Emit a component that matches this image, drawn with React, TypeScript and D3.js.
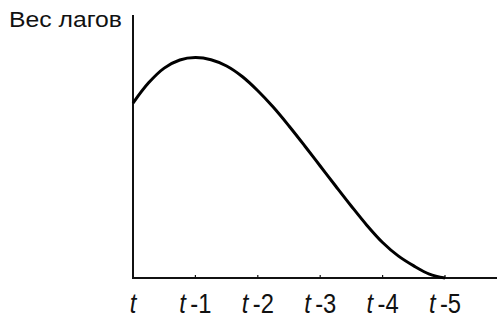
import React from "react";
import * as d3 from "d3";

// Lag positions (0 = current period) and distributed lag weights
const lags = [0, 0.25, 0.5, 0.75, 1, 1.25, 1.5, 1.75, 2, 2.25, 2.5, 2.75, 3, 3.25, 3.5, 3.75, 4, 4.25, 4.5, 4.75, 5];
const weights = [66.5, 74.2, 79.8, 82.9, 83.8, 83.0, 80.6, 76.6, 71.2, 64.9, 57.8, 50.3, 42.6, 34.9, 27.3, 20.0, 13.5, 8.4, 4.6, 1.5, 0];
const tickLags = [0, 1, 2, 3, 4, 5];
const tickLabels = ["", "-1", "-2", "-3", "-4", "-5"];
const yTitle = "Вес лагов";

const W = 497;
const H = 323;

export default function App() {
  const x = d3.scaleLinear().domain([0, 5]).range([133, 445]);
  const y = d3.scaleLinear().domain([0, 100]).range([278, 15]);

  const line = d3
    .line<number>()
    .x((_, i) => x(lags[i]))
    .y((d) => y(d))
    .curve(d3.curveCatmullRom.alpha(0.5));

  const font = "Arial, 'Liberation Sans', sans-serif";

  return (
    <svg
      width={W}
      height={H}
      style={{ position: "absolute", left: 0, top: 0, background: "#fff" }}
    >
      {/* axes */}
      <line x1={x(0)} x2={x(0)} y1={y(100)} y2={y(0) + 1} stroke="#111" strokeWidth={2} />
      <line x1={x(0)} x2={W} y1={y(0)} y2={y(0)} stroke="#111" strokeWidth={2} />
      {tickLags.slice(1).map((t) => (
        <line key={t} x1={x(t)} x2={x(t)} y1={y(0)} y2={y(0) - 3} stroke="#111" strokeWidth={1.2} />
      ))}

      {/* lag weight curve */}
      <path d={line(weights) ?? ""} fill="none" stroke="#000" strokeWidth={3} strokeLinejoin="round" />

      {/* y title */}
      <text x={9} y={27} fontFamily={font} fontSize={22} fill="#111" textLength={113} lengthAdjust="spacingAndGlyphs">
        {yTitle}
      </text>

      {/* x tick labels, slightly condensed */}
      {tickLags.map((t, i) => (
        <g key={t} transform={`translate(${x(t)},313) scale(0.88,1)`}>
          <text x={0} y={0} fontFamily={font} fontSize={27} fill="#111" textAnchor="middle">
            <tspan fontStyle="italic">t</tspan>
            {tickLabels[i] && <tspan dx={5}>{tickLabels[i]}</tspan>}
          </text>
        </g>
      ))}
    </svg>
  );
}
